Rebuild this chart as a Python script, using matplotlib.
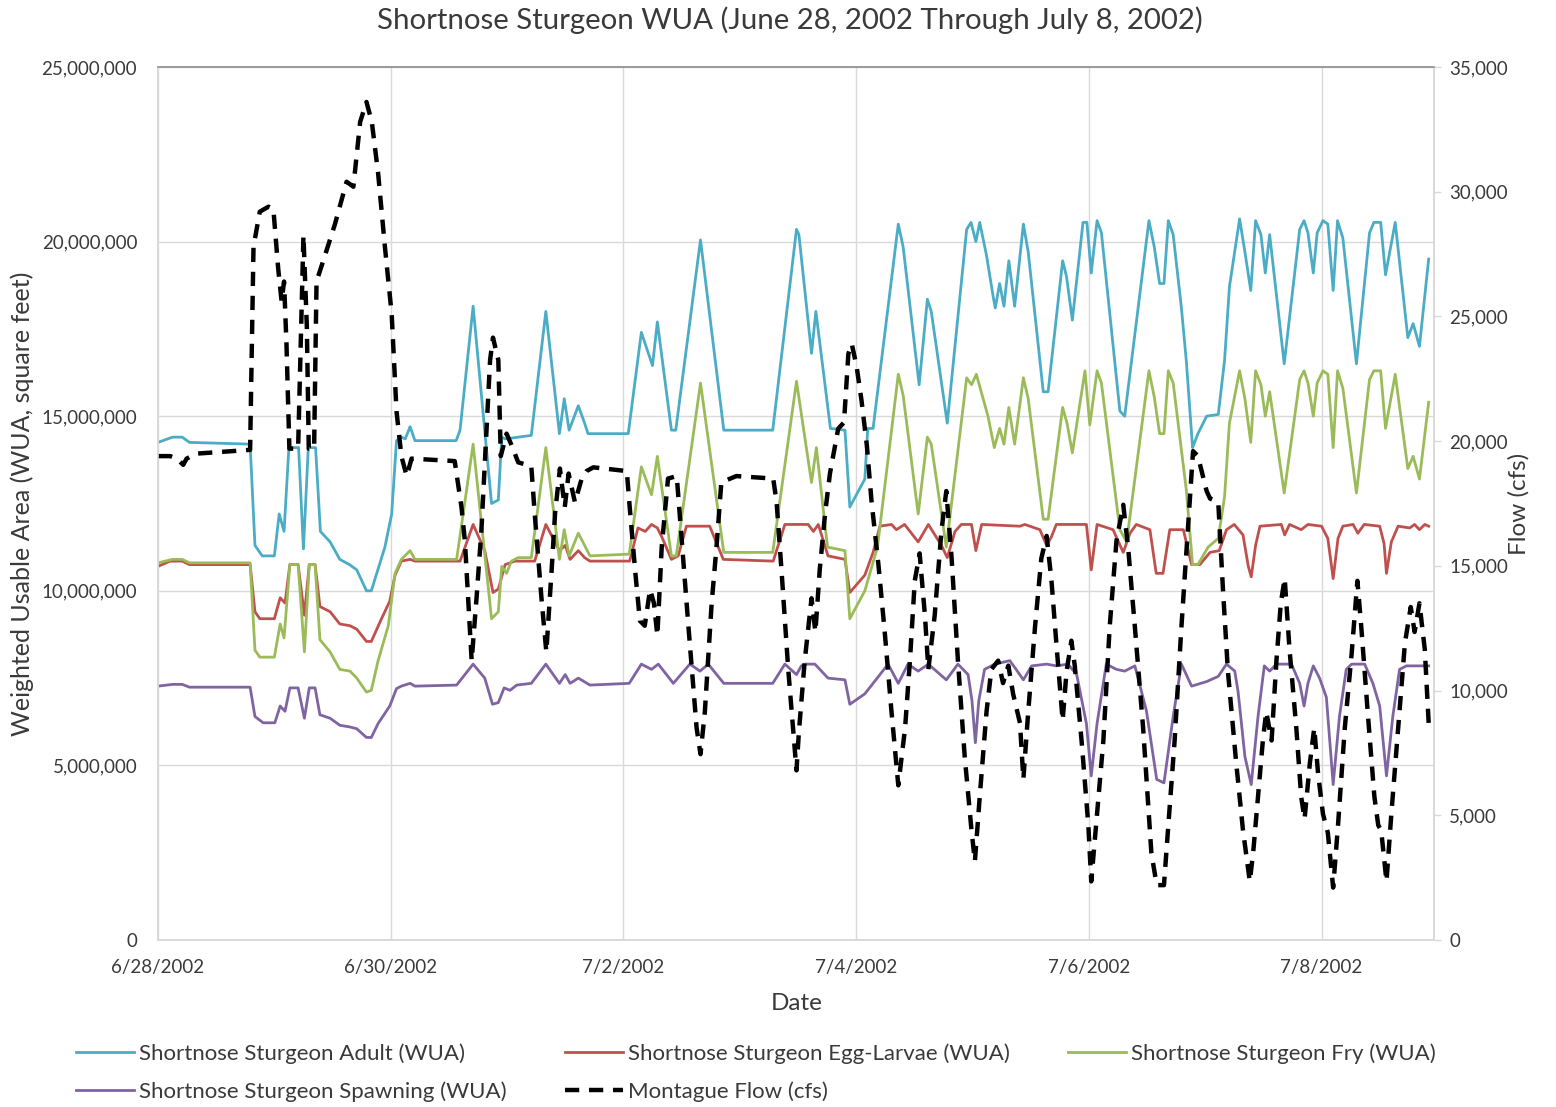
import matplotlib
matplotlib.use("Agg")
import matplotlib.pyplot as plt
from matplotlib.ticker import FuncFormatter

plt.rcParams['font.family'] = ['Lato', 'DejaVu Sans']

# hours after 6/28/2002 00:00, WUA in millions of square feet
adult_wua = [
    (0, 14.25), (3, 14.4), (5, 14.4), (6.5, 14.25), (19, 14.2), (20, 11.3), (21.5, 11.0), (24, 11.0),
    (25, 12.2), (26, 11.7), (27, 14.1), (29, 14.1), (30, 11.2), (31, 14.1), (32.5, 14.1), (33.5, 11.7),
    (35.5, 11.4), (37.5, 10.9), (39.5, 10.75), (41, 10.6), (43, 10.0), (44, 10.0), (46.8, 11.25),
    (48.2, 12.2), (49.2, 14.3), (50.2, 14.4), (51, 14.35), (52, 14.7), (53, 14.3), (61.5, 14.3),
    (62.3, 14.6), (65, 18.15), (68.8, 12.5), (70.2, 12.6), (70.9, 14.4), (71.6, 14.35), (77, 14.45),
    (80, 18.0), (82.8, 14.5), (83.8, 15.5), (84.8, 14.6), (86.7, 15.3), (88, 14.8), (88.7, 14.5),
    (97, 14.5), (99.7, 17.4), (102, 16.45), (103, 17.7), (105.9, 14.6), (106.8, 14.6), (111.9, 20.05),
    (116.7, 14.6), (126.8, 14.6), (131.7, 20.35), (132.2, 20.2), (134.8, 16.8), (135.7, 18.0),
    (138.7, 14.65), (141.7, 14.6), (142.7, 12.4), (145.8, 13.2), (146.4, 14.65), (147.5, 14.65),
    (152.7, 20.5), (153.7, 19.85), (157, 15.9), (158.7, 18.35), (159.5, 18.0), (162.8, 14.8),
    (166.8, 20.35), (167.7, 20.55), (168.7, 20.0), (169.5, 20.55), (170.9, 19.6), (172.3, 18.4),
    (172.7, 18.1), (173.6, 18.8), (174.5, 18.15), (175.5, 19.45), (176.7, 18.15), (178.5, 20.5),
    (179.5, 19.7), (182.6, 15.7), (183.6, 15.7), (186.6, 19.45), (187.4, 19.0), (188.6, 17.75),
    (190.8, 20.55), (191.6, 20.55), (192.5, 19.1), (193.7, 20.6), (194.6, 20.25), (198.4, 15.15),
    (199.4, 15.0), (204.4, 20.6), (205.5, 19.85), (206.6, 18.8), (207.5, 18.8), (208.4, 20.6),
    (209.4, 20.2), (211.1, 18.1), (212.1, 16.6), (213.4, 14.1), (214.5, 14.5), (216.3, 15.0),
    (218.7, 15.05), (220, 16.6), (221, 18.7), (223.1, 20.65), (224.2, 19.7), (225.4, 18.6),
    (226.4, 20.6), (227.5, 20.2), (228.4, 19.1), (229.3, 20.2), (232.3, 16.5), (235.5, 20.35),
    (236.4, 20.6), (237.2, 20.25), (238.3, 19.1), (239.1, 20.25), (240.3, 20.6), (241.3, 20.5),
    (242.4, 18.6), (243.3, 20.6), (244.4, 20.1), (247.2, 16.5), (249.9, 20.25), (250.8, 20.55),
    (252.2, 20.55), (253.2, 19.05), (255.2, 20.55), (257.8, 17.25), (258.9, 17.65), (260.2, 17.0),
    (262.1, 19.5),
]

egg_larvae_wua = [
    (0, 10.7), (2.5, 10.85), (5, 10.85), (6.5, 10.75), (19, 10.75), (20, 9.4), (21, 9.2), (24, 9.2),
    (25.2, 9.8), (26.2, 9.65), (27.2, 10.75), (28.9, 10.75), (30.2, 9.3), (31.2, 10.75), (32.4, 10.75),
    (33.4, 9.55), (35.5, 9.4), (37.5, 9.05), (39.6, 9.0), (41, 8.9), (43, 8.55), (44, 8.55), (46.1, 9.2),
    (47.8, 9.7), (48.9, 10.45), (50.2, 10.85), (52, 10.9), (53, 10.85), (62.3, 10.85), (65, 11.9),
    (67.4, 11.15), (69.1, 9.95), (70.2, 10.05), (71.6, 10.75), (73.6, 10.85), (77.7, 10.85), (80, 11.9),
    (82.8, 11.15), (84, 11.3), (85, 10.9), (86.7, 11.15), (88, 10.95), (89.1, 10.85), (97.3, 10.85),
    (99, 11.8), (100.5, 11.7), (101.8, 11.9), (103, 11.8), (103.9, 11.55), (105.9, 10.9), (107.3, 11.0),
    (109, 11.85), (113.8, 11.85), (116.6, 10.9), (126.9, 10.85), (129.3, 11.9), (131.4, 11.9),
    (134.1, 11.9), (135.2, 11.7), (136.2, 11.9), (138.2, 11.0), (141.7, 10.9), (142.7, 9.95),
    (145.8, 10.45), (147.5, 11.1), (148.9, 11.85), (151.3, 11.9), (152.3, 11.75), (154, 11.9),
    (156.8, 11.4), (158.9, 11.9), (161.6, 11.3), (162.8, 10.95), (164.4, 11.7), (165.7, 11.9),
    (167.8, 11.9), (168.7, 11.15), (169.9, 11.9), (177.8, 11.85), (178.8, 11.9), (181.9, 11.75),
    (183.3, 11.3), (184.3, 11.55), (185.3, 11.9), (191.5, 11.9), (192.5, 10.6), (193.7, 11.9),
    (197, 11.75), (199.1, 11.1), (200.5, 11.65), (201.8, 11.9), (204.6, 11.75), (205.9, 10.5),
    (207.3, 10.5), (208.7, 11.75), (211.5, 11.75), (213.2, 10.75), (214.9, 10.75), (217, 11.1),
    (218.9, 11.15), (220.4, 11.75), (222, 11.9), (223.8, 11.6), (224.9, 10.7), (225.5, 10.4),
    (226.4, 11.3), (227.3, 11.85), (231.7, 11.9), (232.4, 11.6), (233.4, 11.9), (235.8, 11.75),
    (237.2, 11.9), (240, 11.85), (241.3, 11.5), (242.4, 10.35), (243.4, 11.5), (244.4, 11.85),
    (246.5, 11.9), (247.5, 11.65), (248.8, 11.9), (252, 11.85), (252.9, 11.35), (253.4, 10.5),
    (254.4, 11.4), (255.8, 11.85), (258.2, 11.8), (259.2, 11.9), (260.2, 11.75), (261.3, 11.9),
    (262.1, 11.85),
]

fry_wua = [
    (0, 10.8), (3, 10.9), (5, 10.9), (6.5, 10.8), (19, 10.8), (20, 8.3), (21, 8.1), (24, 8.1),
    (25.2, 9.05), (26, 8.65), (27.2, 10.75), (28.9, 10.75), (30.2, 8.25), (31.2, 10.75), (32.4, 10.75),
    (33.4, 8.6), (35.5, 8.25), (37.5, 7.75), (39.6, 7.7), (41, 7.5), (43, 7.1), (44, 7.15), (45.4, 8.0),
    (47.5, 9.0), (48.9, 10.5), (50.2, 10.9), (52, 11.15), (53, 10.9), (61.6, 10.9), (65, 14.2),
    (68.8, 9.2), (70.2, 9.4), (70.9, 10.7), (71.9, 10.5), (72.9, 10.85), (74.3, 10.95), (77, 10.95),
    (80, 14.1), (82.8, 10.9), (83.8, 11.75), (84.8, 11.0), (86.7, 11.65), (88, 11.3), (89.1, 11.0),
    (97.2, 11.05), (99.7, 13.55), (101.8, 12.75), (103, 13.85), (105.9, 11.0), (106.9, 11.0),
    (111.9, 15.95), (116.7, 11.1), (126.8, 11.1), (131.7, 16.0), (134.8, 13.1), (135.8, 14.1),
    (138.1, 11.25), (141.7, 11.15), (142.7, 9.2), (145.8, 10.0), (148.4, 11.25), (152.7, 16.2),
    (153.7, 15.6), (156.8, 12.2), (158.7, 14.4), (159.5, 14.2), (162.6, 11.25), (166.8, 16.1),
    (167.8, 15.9), (168.8, 16.2), (171.2, 15.0), (172.5, 14.1), (173.6, 14.65), (174.5, 14.2),
    (175.5, 15.25), (176.7, 14.2), (178.5, 16.1), (179.5, 15.5), (182.6, 12.05), (183.6, 12.05),
    (186.6, 15.25), (187.5, 14.8), (188.6, 13.95), (191.2, 16.3), (192.2, 14.75), (193.7, 16.3),
    (194.6, 15.95), (198.4, 11.75), (199.8, 11.4), (204.4, 16.3), (205.5, 15.55), (206.6, 14.5),
    (207.5, 14.5), (208.4, 16.3), (209.4, 15.95), (212.1, 12.9), (213.4, 10.75), (214.5, 10.75),
    (216.6, 11.25), (218.7, 11.5), (220, 12.7), (221, 14.8), (223.1, 16.3), (224.2, 15.5),
    (225.4, 14.25), (226.4, 16.3), (227.5, 15.9), (228.4, 15.0), (229.3, 15.7), (232.3, 12.8),
    (235.5, 16.05), (236.4, 16.3), (237.2, 15.95), (238.3, 15.0), (239.1, 15.95), (240.3, 16.3),
    (241.3, 16.2), (242.4, 14.1), (243.3, 16.3), (244.4, 15.8), (247.2, 12.8), (249.9, 16.05),
    (250.8, 16.3), (252.2, 16.3), (253.2, 14.65), (255.2, 16.2), (257.8, 13.5), (258.9, 13.85),
    (260.2, 13.2), (262.1, 15.4),
]

spawning_wua = [
    (0, 7.27), (3, 7.32), (5, 7.32), (6.5, 7.24), (19, 7.24), (20, 6.4), (21.7, 6.22), (24.1, 6.22),
    (25.2, 6.7), (26.2, 6.55), (27.2, 7.22), (28.9, 7.22), (30.2, 6.35), (31.2, 7.22), (32.4, 7.22),
    (33.4, 6.45), (35.5, 6.35), (37.5, 6.15), (39.6, 6.1), (41, 6.05), (43, 5.8), (44, 5.8), (45.4, 6.2),
    (47.8, 6.7), (49.2, 7.2), (50.2, 7.27), (52, 7.35), (53, 7.27), (61.6, 7.3), (65, 7.9), (67.4, 7.5),
    (69, 6.75), (70.2, 6.8), (71.4, 7.22), (72.6, 7.15), (74, 7.3), (77, 7.35), (80, 7.9), (82.8, 7.35),
    (84, 7.6), (85, 7.35), (86.7, 7.5), (89.1, 7.3), (97.2, 7.35), (99.7, 7.9), (101.8, 7.75),
    (103.2, 7.9), (106.3, 7.35), (109.7, 7.9), (111.8, 7.7), (113.5, 7.9), (116.7, 7.35), (126.8, 7.35),
    (129.3, 7.9), (131.7, 7.6), (132.7, 7.85), (133.4, 7.9), (135.5, 7.9), (138.2, 7.5), (141.7, 7.45),
    (142.7, 6.75), (145.8, 7.05), (147.5, 7.35), (150.6, 7.9), (152.7, 7.35), (154.7, 7.9),
    (156.8, 7.7), (158.9, 7.9), (162.6, 7.45), (165, 7.9), (167.1, 7.6), (167.9, 6.85), (168.6, 5.65),
    (169.3, 6.85), (170.5, 7.75), (172.6, 7.9), (175.7, 8.0), (177, 7.75), (178.5, 7.45), (180.2, 7.85),
    (183.3, 7.9), (185.3, 7.85), (187.7, 7.9), (189.5, 7.6), (191.5, 6.2), (192.5, 4.7), (193.7, 6.2),
    (195.6, 7.9), (197.7, 7.75), (199.4, 7.7), (201.5, 7.85), (203.9, 6.55), (206, 4.6), (207.5, 4.5),
    (209.4, 6.4), (211.1, 7.9), (213.2, 7.27), (216.3, 7.4), (218.7, 7.55), (220.4, 7.9), (222.1, 7.7),
    (222.8, 7.1), (224.2, 5.25), (225.5, 4.45), (226.9, 6.4), (228.2, 7.85), (229.3, 7.7), (230.7, 7.9),
    (233.8, 7.9), (235.5, 7.35), (236.4, 6.7), (237.2, 7.35), (238.3, 7.85), (239.6, 7.5), (241, 6.95),
    (242.4, 4.45), (243.7, 6.4), (245.1, 7.75), (246.2, 7.9), (248.9, 7.9), (250.6, 7.35), (252, 6.7),
    (253.4, 4.7), (254.7, 6.4), (256.1, 7.75), (257.5, 7.85), (262.1, 7.85),
]

# Montague flow, thousands of cfs
montague_flow = [
    (0, 19.4), (2.5, 19.4), (3.9, 19.3), (5.2, 19.05), (5.9, 19.3), (8, 19.5), (19, 19.65),
    (19.7, 27.8), (21, 29.2), (22.8, 29.4), (23.8, 29.3), (24.8, 26.9), (25.5, 25.6), (26, 26.4),
    (26.5, 23.9), (27.1, 19.7), (28.9, 19.7), (30, 28.25), (30.7, 24.6), (31.1, 19.7), (32.2, 19.7),
    (32.7, 26.4), (34.2, 27.3), (36.5, 28.7), (38.9, 30.4), (40.3, 30.2), (41.7, 32.8), (43, 33.6),
    (44.1, 32.8), (45.4, 30.75), (46.8, 27.8), (48.2, 25.1), (49.2, 21.2), (50.2, 19.4), (51.3, 18.6),
    (52.3, 19.3), (61.2, 19.2), (62.6, 17.35), (63.3, 16.0), (64.7, 11.2), (65.7, 13.7), (66.7, 16.4),
    (68.5, 23.25), (69.1, 24.15), (70.2, 23.25), (70.7, 19.4), (71.9, 20.3), (72.9, 19.85),
    (74.3, 19.15), (77, 19.0), (77.7, 17.1), (79.1, 13.7), (80.1, 11.55), (81.2, 14.85), (81.9, 17.1),
    (82.9, 18.9), (83.9, 17.35), (84.7, 18.7), (86, 17.55), (87.4, 18.5), (88.4, 18.8), (89.8, 18.95),
    (96.7, 18.8), (97.3, 17.35), (98.4, 14.85), (99.4, 12.8), (100.4, 12.6), (101.5, 14.05),
    (102.3, 13.5), (103, 12.2), (103.9, 15.75), (105.2, 18.5), (107, 18.6), (107.6, 17.1), (109.4, 12.6),
    (111.1, 8.5), (111.9, 7.45), (112.8, 9.15), (114.2, 13.5), (115.2, 15.75), (116.2, 18.35),
    (119.3, 18.6), (126.9, 18.5), (127.6, 17.55), (128.6, 14.85), (130, 10.85), (131.7, 6.8),
    (132.2, 8.35), (133.4, 11.2), (134.8, 13.7), (135.6, 12.35), (136.5, 14.85), (137.6, 17.1),
    (138.6, 18.7), (140.3, 20.5), (141.5, 20.75), (142.4, 23.5), (143.1, 23.9), (144.1, 23.0),
    (145.1, 21.65), (146.2, 19.85), (147.2, 17.55), (148.6, 15.05), (149.9, 12.35), (151.3, 9.15),
    (152.7, 6.2), (154.1, 8.5), (155.1, 11.2), (156.1, 14.4), (157.1, 15.5), (158.2, 13.0),
    (158.9, 10.85), (160.2, 13.0), (161.6, 16.4), (162.6, 18.0), (163.7, 15.3), (165, 11.2),
    (166.4, 7.35), (167.8, 4.4), (168.5, 3.15), (169.5, 5.75), (170.9, 9.15), (171.9, 10.85),
    (173.3, 11.2), (174.3, 10.3), (175.4, 11.0), (176.4, 9.85), (177.8, 8.7), (178.5, 6.45),
    (179.5, 9.15), (180.9, 12.55), (182.2, 15.3), (183.3, 16.2), (184.3, 14.4), (185.3, 11.9),
    (186.6, 8.8), (187.4, 10.75), (188.4, 12.0), (189.1, 11.0), (190.5, 8.0), (191.9, 4.6),
    (192.5, 2.35), (193.6, 4.85), (195, 8.0), (196.3, 12.55), (197.7, 16.0), (199.1, 17.45),
    (200.1, 15.75), (201.5, 12.55), (203.2, 8.5), (204.9, 3.5), (206, 2.2), (207.5, 2.2), (208.4, 4.6),
    (209.7, 8.0), (211.1, 12.55), (212.5, 16.65), (213.5, 19.6), (214.5, 19.4), (216.3, 18.0),
    (217, 17.7), (218.7, 17.55), (219.7, 13.95), (220.7, 10.75), (222.4, 7.1), (223.8, 4.4),
    (225.2, 2.35), (225.9, 3.5), (226.9, 5.75), (227.9, 8.0), (228.6, 9.15), (229.7, 8.0),
    (230.7, 11.2), (231.6, 13.5), (232.4, 14.5), (233.4, 11.65), (234.8, 8.5), (235.8, 5.75),
    (236.5, 4.85), (237.6, 7.1), (238.5, 8.5), (239.3, 6.65), (240.3, 5.05), (241.3, 4.3),
    (242.4, 2.1), (243.4, 4.6), (244.8, 8.5), (246.2, 11.45), (247.4, 14.4), (248.2, 12.55),
    (249.6, 8.95), (250.9, 5.75), (251.7, 4.6), (252.3, 4.4), (253.4, 2.35), (254.4, 5.05),
    (255.8, 8.5), (257.2, 11.9), (258.4, 13.35), (259.2, 12.35), (260.2, 13.5), (261.3, 11.65),
    (262.1, 8.7),
]

date_ticks = [0, 48, 96, 144, 192, 240]
date_labels = ['6/28/2002', '6/30/2002', '7/2/2002', '7/4/2002', '7/6/2002', '7/8/2002']
wua_ticks = [0, 5e6, 10e6, 15e6, 20e6, 25e6]
flow_ticks = [0, 5000, 10000, 15000, 20000, 25000, 30000, 35000]

TEXT = '#3A3A3A'
GRID = '#D9D9D9'


def split(pairs, scale):
    hours = [p[0] for p in pairs]
    vals = [p[1] * scale for p in pairs]
    return hours, vals


fig = plt.figure(figsize=(15.56, 11.07), dpi=100)
ax = fig.add_axes([158 / 1556, 167 / 1107, 1276 / 1556, 873 / 1107])
ax2 = ax.twinx()

wua_series = [
    (adult_wua, '#4BACC6', 'Shortnose Sturgeon Adult (WUA)'),
    (egg_larvae_wua, '#C0504D', 'Shortnose Sturgeon Egg-Larvae (WUA)'),
    (fry_wua, '#9BBB59', 'Shortnose Sturgeon Fry (WUA)'),
    (spawning_wua, '#8064A2', 'Shortnose Sturgeon Spawning (WUA)'),
]
lines = []
for pairs, color, label in wua_series:
    h, v = split(pairs, 1e6)
    ln, = ax.plot(h, v, color=color, lw=2.0, label=label, solid_joinstyle='round')
    lines.append(ln)

h, v = split(montague_flow, 1000)
flow_line, = ax2.plot(h, v, color='black', lw=3.2, dashes=(3.2, 2.2),
                      label='Montague Flow (cfs)')

ax.set_xlim(0, 263.2)
ax.set_ylim(0, 25e6)
ax2.set_ylim(0, 35000)

ax.set_xticks(date_ticks)
ax.set_xticklabels(date_labels)
ax.set_yticks(wua_ticks)
ax.yaxis.set_major_formatter(FuncFormatter(lambda v, p: f'{v:,.0f}'))
ax2.set_yticks(flow_ticks)
ax2.yaxis.set_major_formatter(FuncFormatter(lambda v, p: f'{v:,.0f}'))

ax.grid(True, color=GRID, lw=1.0)
ax.set_axisbelow(True)
ax.tick_params(axis='x', length=0, pad=14, labelsize=13.5, labelcolor=TEXT)
ax.tick_params(axis='y', length=0, pad=15, labelsize=13.5, labelcolor=TEXT)
ax2.tick_params(axis='y', length=5, width=1, color=GRID, pad=6, labelsize=13.5, labelcolor=TEXT)

for a in (ax, ax2):
    for side, sp in a.spines.items():
        sp.set_color(GRID)
        sp.set_linewidth(1.2)
    a.spines['top'].set_color('#9A9A9A')

fig.text(790 / 1556, 1 - 20 / 1107, 'Shortnose Sturgeon WUA (June 28, 2002 Through July 8, 2002)',
         ha='center', va='center', fontsize=21.2, color=TEXT)
fig.text(797 / 1556, 1 - 1003 / 1107, 'Date', ha='center', va='center', fontsize=17.5, color=TEXT)
fig.text(22 / 1556, 1 - 504 / 1107, 'Weighted Usable Area (WUA, square feet)', ha='center',
         va='center', rotation=90, fontsize=18, color=TEXT)
fig.text(1519 / 1556, 1 - 504 / 1107, 'Flow (cfs)', ha='center', va='center', rotation=90,
         fontsize=17.5, color=TEXT)

# legend fills row-wise: reorder because matplotlib fills columns first
handles = [lines[0], lines[3], lines[1], flow_line, lines[2]]
fig.legend(handles=handles, labels=[hd.get_label() for hd in handles], ncol=3,
           loc='upper left', bbox_to_anchor=(56 / 1556, 1 - 1023 / 1107), frameon=False,
           fontsize=16, handlelength=2.6, handletextpad=0.25, columnspacing=2.6,
           labelspacing=0.8, labelcolor=TEXT)

fig.savefig('out.png', dpi=100)
